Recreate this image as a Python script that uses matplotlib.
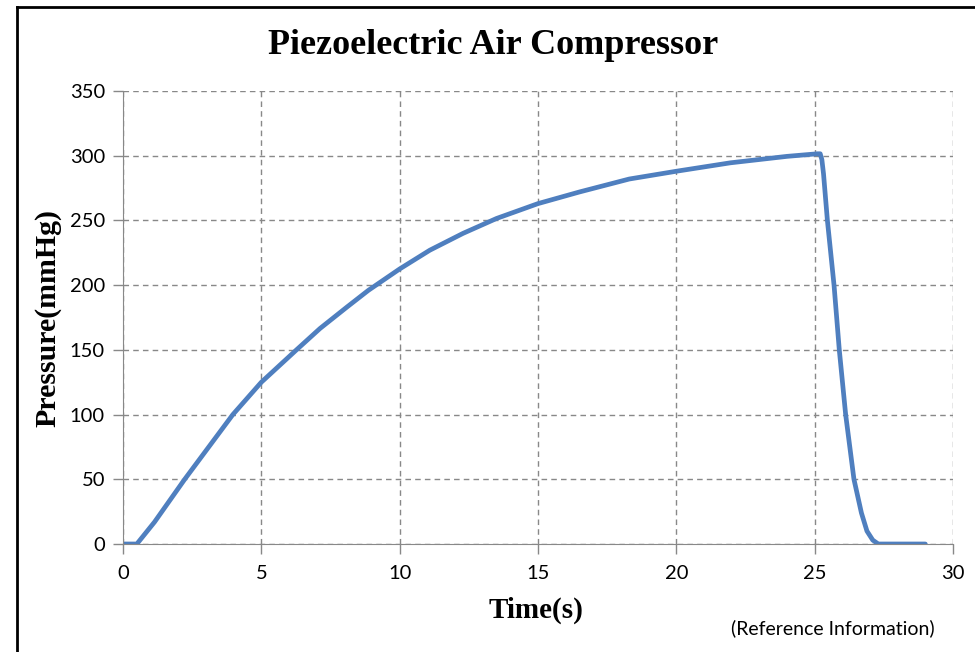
import numpy as np
import matplotlib.pyplot as plt
from matplotlib.lines import Line2D

# pressure trace
time_s = [0.0, 0.3, 0.5, 1.14, 2.23, 3.97, 5.0, 6.27, 7.12, 8.09, 8.87,
          10.0, 11.09, 12.29, 13.5, 15.0, 16.5, 18.3, 20.0, 21.95, 24.0,
          25.1, 25.2, 25.26, 25.32, 25.46, 25.7, 25.89, 26.12, 26.42,
          26.69, 26.89, 27.1, 27.3, 28.0, 29.0]
pressure = [0, 0, 0, 17, 50, 100, 125, 150, 166.5, 183, 196,
            212.5, 227, 240, 251.5, 263, 272, 282, 288, 294.5, 299.5,
            301.5, 301.5, 297, 286, 250, 200, 150, 100, 50,
            24, 10, 3, 0, 0, 0]

xticks = [0, 5, 10, 15, 20, 25, 30]
yticks = [0, 50, 100, 150, 200, 250, 300, 350]

fig = plt.figure(figsize=(9.75, 6.52), dpi=100)
ax = fig.add_axes([123/975, 1 - 544/652, (953 - 123)/975, (544 - 91)/652])

ax.plot(time_s, pressure, color="#4F7FBF", lw=3.4, solid_capstyle="round",
        solid_joinstyle="round")

ax.set_xlim(0, 30)
ax.set_ylim(0, 350)
ax.set_xticks(xticks)
ax.set_yticks(yticks)
ax.grid(True, ls=(0, (4, 3)), color="#888888", lw=1.0)
ax.set_axisbelow(True)
for s in ["top", "right"]:
    ax.spines[s].set_visible(False)
for s in ["left", "bottom"]:
    ax.spines[s].set_color("#888888")
ax.tick_params(axis="both", colors="#888888", length=7, width=1,
               labelcolor="black", labelsize=14.5)
ax.tick_params(axis="x", pad=8)
ax.tick_params(axis="y", pad=6)
for lab in ax.get_xticklabels() + ax.get_yticklabels():
    lab.set_family("Lato")

serif = "Liberation Serif"
fig.text(493/975, 1 - 45/652, "Piezoelectric Air Compressor", ha="center",
         va="center", fontsize=26, fontweight="bold", family=serif)
fig.text(48/975, 1 - 318/652, "Pressure(mmHg)", ha="center", va="center",
         rotation=90, fontsize=21.5, fontweight="bold", family=serif)
fig.text(536/975, 1 - 610/652, "Time(s)", ha="center", va="center",
         fontsize=21, fontweight="bold", family=serif)
fig.text(833/975, 1 - 628/652, "(Reference Information)", ha="center",
         va="center", fontsize=14, family="Lato")

# outer frame (left and top edges visible)
fig.add_artist(Line2D([17/975, 17/975], [0, 1 - 7/652], color="black",
                      lw=2, transform=fig.transFigure))
fig.add_artist(Line2D([17/975, 1], [1 - 7/652, 1 - 7/652], color="black",
                      lw=2, transform=fig.transFigure))

fig.savefig("out.png", dpi=100)
